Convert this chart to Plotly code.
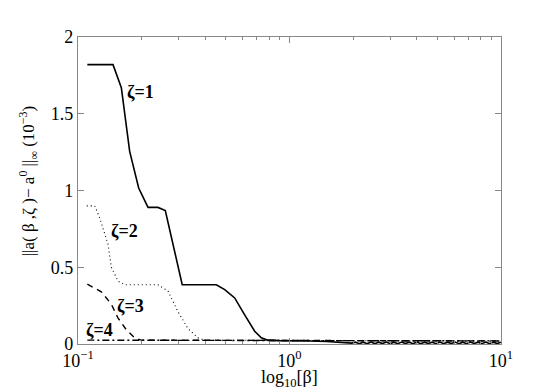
import math
import plotly.graph_objects as go

# zeta = 1 (solid)
beta1 = [0.1107, 0.1464, 0.1603, 0.1755, 0.1936, 0.2143, 0.2388, 0.2587, 0.311, 0.4508,
         0.494, 0.5506, 0.6138, 0.6846, 0.7358, 0.791, 0.90, 1.0, 1.25, 1.5, 1.75, 1.97]
val1 = [1.82, 1.82, 1.67, 1.255, 1.016, 0.89, 0.89, 0.87, 0.386, 0.386,
        0.354, 0.30, 0.19, 0.083, 0.04, 0.025, 0.022, 0.022, 0.02, 0.016, 0.012, 0.006]
# noisy tail of zeta = 1 beyond beta ~ 2
beta1_tail = [2.05, 2.14, 2.23, 2.33, 2.43, 2.53, 2.64, 2.75, 2.87, 2.99, 3.12, 3.25, 3.39,
              3.53, 3.68, 3.84, 4.0, 4.17, 4.35, 4.53, 4.73, 4.93, 5.14, 5.36, 5.58, 5.82,
              6.07, 6.33, 6.6, 6.88, 7.17, 7.47, 7.79, 8.12, 8.47, 8.83, 9.2, 9.6, 10.0]
val1_tail = [0.012, 0.002, 0.012, 0.002, 0.013, 0.002, 0.012, 0.003, 0.013, 0.002, 0.012, 0.002, 0.013,
             0.003, 0.012, 0.002, 0.013, 0.002, 0.012, 0.003, 0.012, 0.002, 0.013, 0.002, 0.012, 0.003,
             0.013, 0.002, 0.012, 0.002, 0.013, 0.003, 0.012, 0.002, 0.013, 0.002, 0.012, 0.003, 0.012]

# zeta = 2 (dotted)
beta2 = [0.110, 0.12, 0.1267, 0.1387, 0.1437, 0.1545, 0.1662, 0.2388, 0.2664, 0.2971,
         0.3313, 0.3693, 0.397, 1.0, 2.0, 10.0]
val2 = [0.9, 0.9, 0.82, 0.65, 0.5, 0.41, 0.386, 0.386, 0.345, 0.21,
        0.1, 0.04, 0.025, 0.024, 0.02, 0.018]

# zeta = 3 (dashed)
beta3 = [0.1107, 0.1289, 0.1437, 0.1545, 0.1692, 0.1853, 0.1992, 1.0, 2.0, 10.0]
val3 = [0.39, 0.34, 0.26, 0.17, 0.093, 0.04, 0.025, 0.024, 0.02, 0.02]

# zeta = 4 (dash-dot)
beta4 = [0.1107, 1.0, 2.0, 10.0]
val4 = [0.025, 0.024, 0.021, 0.02]

labels = ["ζ=1", "ζ=2", "ζ=3", "ζ=4"]
label_x = [0.198, 0.165, 0.178, 0.127]
label_y = [1.64, 0.736, 0.247, 0.09]

x_tickvals = [0.1, 1, 10]
x_ticktext = ["10<sup>−1</sup>", "10<sup>0</sup>", "10<sup>1</sup>"]
y_tickvals = [0, 0.5, 1, 1.5, 2]
y_ticktext = ["0", "0.5", "1", "1.5", "2"]

FONT = "Times New Roman, Liberation Serif, Times, serif"
AX = "#888888"

fig = go.Figure()
fig.add_trace(go.Scatter(x=beta1 + beta1_tail, y=val1 + val1_tail, mode="lines",
                         line=dict(color="black", width=1.6)))
fig.add_trace(go.Scatter(x=beta2, y=val2, mode="lines",
                         line=dict(color="black", width=1.1, dash="1px,3px")))
fig.add_trace(go.Scatter(x=beta3, y=val3, mode="lines",
                         line=dict(color="black", width=1.4, dash="6px,5px")))
fig.add_trace(go.Scatter(x=beta4, y=val4, mode="lines",
                         line=dict(color="black", width=1.4, dash="7px,3px,2px,3px")))

for t, lx, ly in zip(labels, label_x, label_y):
    fig.add_annotation(x=math.log10(lx), y=ly, text="<b>" + t + "</b>", showarrow=False,
                       font=dict(family=FONT, size=18, color="black"))

fig.add_annotation(xref="paper", yref="paper", x=-0.115, y=0.531, xanchor="center", yanchor="middle",
                   text="||a( β ,ζ )− a<sup>0</sup> ||<sub>∞</sub> (10<sup>−3</sup>)",
                   textangle=-90, showarrow=False,
                   font=dict(family=FONT, size=17, color="black"))
fig.add_annotation(xref="paper", yref="paper", x=0.5, y=-0.112, xanchor="center", yanchor="middle",
                   text="log<sub>10</sub>[β]", showarrow=False,
                   font=dict(family=FONT, size=18, color="black"))

fig.update_layout(
    width=545, height=391,
    margin=dict(l=70, r=52, t=29, b=55),
    paper_bgcolor="white", plot_bgcolor="white",
    showlegend=False,
    font=dict(family=FONT, size=18, color="black"),
)
fig.update_xaxes(
    type="log", range=[-1, 1],
    tickvals=x_tickvals, ticktext=x_ticktext,
    ticks="inside", ticklen=6, tickcolor=AX,
    showline=True, linecolor=AX, linewidth=1.2, mirror="ticks",
    showgrid=False, zeroline=False,
    minor=dict(ticks="inside", ticklen=3, tickcolor=AX,
               tickvals=[0.2, 0.3, 0.4, 0.5, 0.6, 0.7, 0.8, 0.9, 2, 3, 4, 5, 6, 7, 8, 9]),
    tickfont=dict(family=FONT, size=18),
)
fig.update_yaxes(
    range=[0, 2], tickvals=y_tickvals, ticktext=y_ticktext,
    ticks="inside", ticklen=6, tickcolor=AX,
    showline=True, linecolor=AX, linewidth=1.2, mirror="ticks",
    showgrid=False, zeroline=False,
    tickfont=dict(family=FONT, size=18),
)

fig.write_html("out.html")
